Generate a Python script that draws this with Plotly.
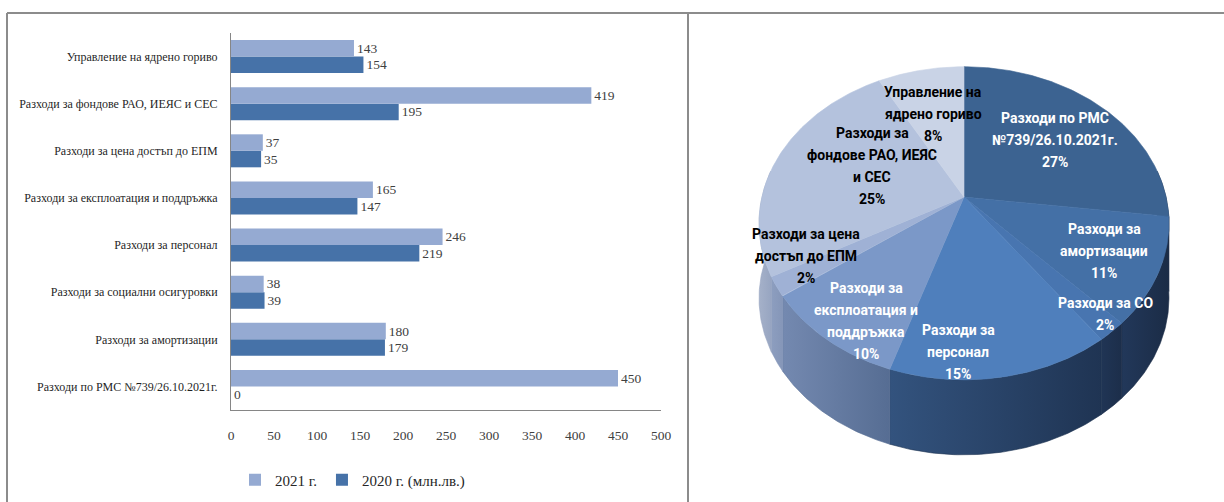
import numpy as np
import plotly.graph_objects as go

# ---------------- data ----------------
categories = [
    "Разходи по РМС №739/26.10.2021г.",
    "Разходи за амортизации",
    "Разходи за социални осигуровки",
    "Разходи за персонал",
    "Разходи за експлоатация и поддръжка",
    "Разходи за цена достъп до ЕПМ",
    "Разходи за фондове РАО, ИЕЯС и СЕС",
    "Управление на ядрено гориво",
]
values_2021 = [450, 180, 38, 246, 165, 37, 419, 143]
values_2020 = [0, 179, 39, 219, 147, 35, 195, 154]
series_names = ["2021 г.", "2020 г. (млн.лв.)"]
x_ticks = [0, 50, 100, 150, 200, 250, 300, 350, 400, 450, 500]

pie_labels = [
    "Разходи по РМС<br>№739/26.10.2021г.",
    "Разходи за<br>амортизации",
    "Разходи за СО",
    "Разходи за<br>персонал",
    "Разходи за<br>експлоатация и<br>поддръжка",
    "Разходи за цена<br>достъп до ЕПМ",
    "Разходи за<br>фондове РАО, ИЕЯС<br>и СЕС",
    "Управление на<br>ядрено гориво",
]
pie_shares = [27, 11, 2, 15, 10, 2, 25, 8]

# ---------------- styles ----------------
W, H = 1224, 502
LIGHT, DARK = "#95AAD2", "#4672A8"
SERIF = "Liberation Serif, Times New Roman, serif"
PIEFONT = "Roboto, Liberation Sans, Arial, sans-serif"

top_colors = ["#3C6391", "#4470A6", "#4875B0", "#4F7FBC", "#7B98C8", "#9FB1D5", "#B4C2DD", "#C9D3E6"]
side_colors = [
    ("#22375A", "#1A2A44"),
    ("#22385A", "#1B2C46"),
    ("#203555", "#1C2E4A"),
    ("#33537E", "#1F3453"),
    ("#7489B0", "#566D93"),
    ("#8D9EBF", "#8596B8"),
    ("#A5B1C9", "#97A5C1"),
    ("#B5C0D6", "#AAB6CD"),
]
label_colors = ["white", "white", "white", "white", "white", "black", "black", "black"]
label_centers = [(1055, 140), (1104, 251), (1105, 314), (958, 352),
                 (866, 321), (806, 256), (872, 166), (933, 114)]
LINE_STEP = 22

def px(x):
    return x / W

def py(y):
    return 1 - y / H

fig = go.Figure()

# ---------------- bar chart ----------------
fig.add_trace(go.Bar(
    y=categories, x=values_2020, orientation="h", name=series_names[1],
    marker=dict(color=DARK, line=dict(width=0)),
    text=[str(v) for v in values_2020], textposition="outside",
    textfont=dict(family=SERIF, size=13.5, color="#404040"),
    cliponaxis=False, legendrank=2, hoverinfo="skip",
))
fig.add_trace(go.Bar(
    y=categories, x=values_2021, orientation="h", name=series_names[0],
    marker=dict(color=LIGHT, line=dict(width=0)),
    text=[str(v) for v in values_2021], textposition="outside",
    textfont=dict(family=SERIF, size=13.5, color="#404040"),
    cliponaxis=False, legendrank=1, hoverinfo="skip",
))

# ---------------- 3D-looking pie ----------------
cx, cy, f, D, s_, c_ = 964, 197, 792, 3.92, 0.753, 0.658
depth_px = 75

def proj(theta_deg, rho=1.0):
    t = np.radians(theta_deg)
    u = rho * np.sin(t)
    v = rho * np.cos(t)
    ys = v * s_
    dep = D + v * c_
    return cx + f * u / dep, cy - f * ys / dep

total = sum(pie_shares)
bounds = np.concatenate([[0], np.cumsum(pie_shares)]) / total * 360.0

# side walls first
for i in range(len(pie_shares)):
    a, b = max(bounds[i], 80.0), min(bounds[i + 1], 280.0)
    if b <= a:
        continue
    th = np.linspace(a, b, 60)
    xt, yt = proj(th)
    xs = np.concatenate([xt, xt[::-1], xt[:1]])
    ys = np.concatenate([yt, (yt + depth_px)[::-1], yt[:1]])
    fig.add_trace(go.Scatter(
        x=xs, y=ys, xaxis="x2", yaxis="y2", mode="lines",
        line=dict(width=0.6, color=side_colors[i][1]), fill="toself",
        fillgradient=dict(type="horizontal",
                          colorscale=[[0, side_colors[i][0]], [1, side_colors[i][1]]]),
        showlegend=False, hoverinfo="skip",
    ))

# top faces
for i in range(len(pie_shares)):
    th = np.linspace(bounds[i], bounds[i + 1], 120)
    xt, yt = proj(th)
    xs = np.concatenate([[cx], xt, [cx]])
    ys = np.concatenate([[cy], yt, [cy]])
    fig.add_trace(go.Scatter(
        x=xs, y=ys, xaxis="x2", yaxis="y2", mode="lines",
        line=dict(width=0.6, color=top_colors[i]), fill="toself",
        fillcolor=top_colors[i], showlegend=False, hoverinfo="skip",
    ))

# pie labels
annotations = []
for i, lab in enumerate(pie_labels):
    lines = lab.split("<br>") + [f"{pie_shares[i]}%"]
    lx, ly = label_centers[i]
    n = len(lines)
    for k, ln in enumerate(lines):
        annotations.append(dict(
            x=lx, y=ly + (k - (n - 1) / 2) * LINE_STEP, xref="x2", yref="y2",
            text=ln, showarrow=False, xanchor="center", yanchor="middle",
            font=dict(family=PIEFONT, size=14, color=label_colors[i], weight="bold"),
        ))

# frame lines
frame = "#8C8C8C"
shapes = [
    dict(type="line", xref="paper", yref="paper", x0=px(7), x1=1, y0=py(13), y1=py(13),
         line=dict(color=frame, width=2)),
    dict(type="line", xref="paper", yref="paper", x0=px(7), x1=px(7), y0=py(13), y1=0,
         line=dict(color=frame, width=2)),
    dict(type="line", xref="paper", yref="paper", x0=px(688), x1=px(688), y0=py(13), y1=0,
         line=dict(color=frame, width=2)),
]

fig.update_layout(
    width=W, height=H,
    margin=dict(l=0, r=0, t=0, b=0, autoexpand=False),
    paper_bgcolor="white", plot_bgcolor="rgba(0,0,0,0)",
    barmode="group", bargap=0.3, bargroupgap=0.0,
    xaxis=dict(domain=[px(231), px(661)], range=[0, 500], tickvals=x_ticks,
               showgrid=False, zeroline=False, showline=True, linecolor="#868686",
               linewidth=1, ticks="", ticklabelstandoff=13, automargin=False,
               tickfont=dict(family=SERIF, size=13.5, color="#404040"), fixedrange=True),
    yaxis=dict(domain=[py(410), py(33)], showgrid=False, zeroline=False, showline=True,
               linecolor="#868686", linewidth=1, ticks="", ticklabelstandoff=10,
               automargin=False, tickfont=dict(family=SERIF, size=12, color="#1F1F1F"),
               fixedrange=True),
    xaxis2=dict(domain=[px(690), 1], range=[690, W], visible=False, anchor="y2",
                fixedrange=True),
    yaxis2=dict(domain=[0, 1], range=[H, 0], visible=False, anchor="x2", fixedrange=True),
    legend=dict(orientation="h", x=px(235), y=py(480), xanchor="left", yanchor="middle",
                font=dict(family=SERIF, size=15, color="#262626"),
                bgcolor="rgba(0,0,0,0)", itemclick=False, itemdoubleclick=False),
    showlegend=True,
    annotations=annotations, shapes=shapes,
)

fig.write_html("out.html")
